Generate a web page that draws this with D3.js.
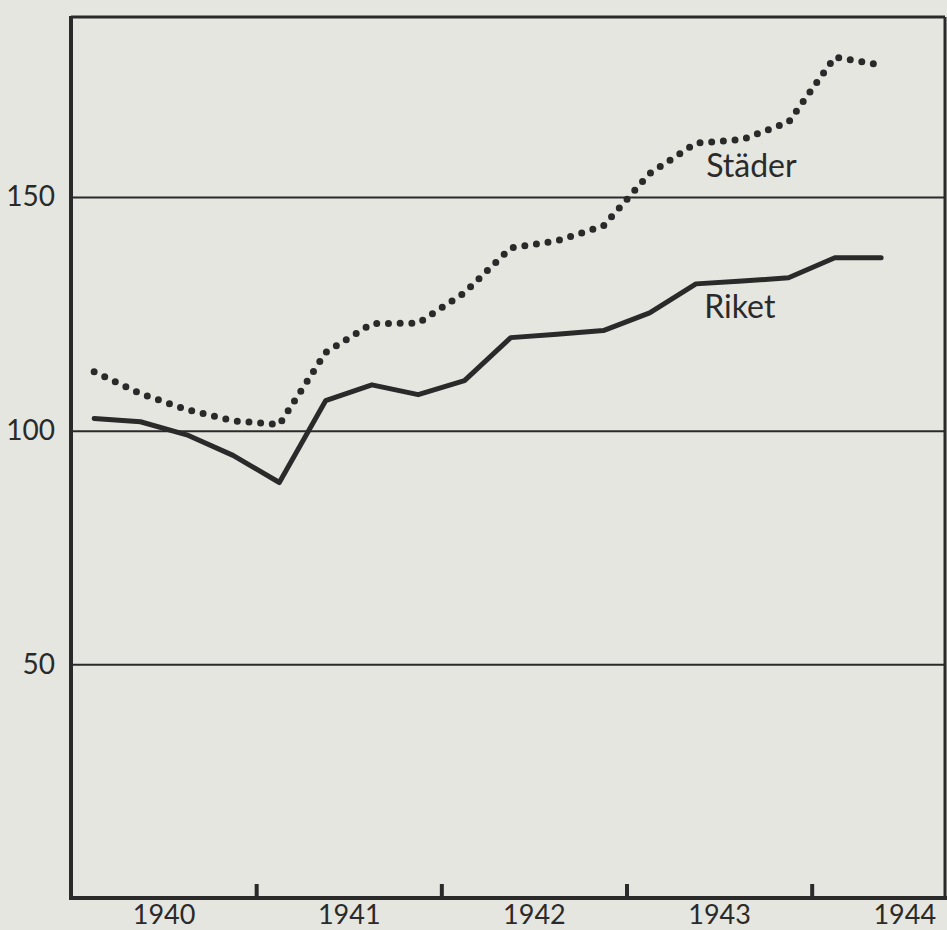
<!DOCTYPE html>
<html>
<head>
<meta charset="utf-8">
<script src="https://cdn.jsdelivr.net/npm/d3@7"></script>
<style>
  body { margin: 0; background: #e5e6e0; }
  svg { display: block; }
  text { font-family: Lato, "Noto Sans", sans-serif; fill: #2b2a2a; }
</style>
</head>
<body>
<div id="chart"></div>
<script>
// quarterly values, Q1 1940 .. Q2 1944
let quarters = ['1940:1','1940:2','1940:3','1940:4','1941:1','1941:2','1941:3','1941:4',
                '1942:1','1942:2','1942:3','1942:4','1943:1','1943:2','1943:3','1943:4',
                '1944:1','1944:2'];
let riket  = [102.6, 101.9, 99.1, 94.7, 88.9, 106.4, 109.8, 107.7, 110.7, 119.9,
              120.6, 121.4, 125.2, 131.4, 132.0, 132.7, 137.0, 137.0];
let stader = [112.6, 107.9, 104.5, 102.1, 101.3, 116.7, 122.9, 123.0, 129.5, 139.1,
              140.6, 143.8, 155.0, 161.5, 162.3, 166.0, 179.9, 178.2];
let yTicks = [50, 100, 150];
let yearBreaks = [1941, 1942, 1943, 1944];
let yearLabels = [1940, 1941, 1942, 1943, 1944];
let seriesLabels = [
    {name: 'Städer', x: 1943.43, y: 154.3},
    {name: 'Riket', x: 1943.42, y: 124.1}
];

let elWidth = 947, elHeight = 930;
let margin = {top: 17, right: 2, bottom: 32, left: 71};
let width = elWidth - margin.left - margin.right;
let height = elHeight - margin.top - margin.bottom;

let svg = d3.select('#chart').append('svg')
    .attr('width', elWidth)
    .attr('height', elHeight);
let g = svg.append('g').attr('transform', 'translate(' + margin.left + ',' + margin.top + ')');

let x = d3.scaleLinear().domain([1940, 1944.72]).range([0, width]);
let y = d3.scaleLinear().domain([0, 188.5]).range([height, 0]);

function qpos(q) {
    let p = q.split(':');
    return +p[0] + (+p[1] - 0.5) / 4;
}

// gridlines + y labels
let yAxis = g.append('g')
    .call(d3.axisLeft(y).tickValues(yTicks).tickSize(-width).tickPadding(16));
yAxis.select('.domain').remove();
yAxis.selectAll('.tick line').attr('stroke', '#2b2a2a').attr('stroke-width', 2);
yAxis.selectAll('.tick text').attr('font-size', 28).attr('fill', '#2b2a2a');

// year boundary ticks
let xAxis = g.append('g')
    .attr('transform', 'translate(0,' + height + ')')
    .call(d3.axisBottom(x).tickValues(yearBreaks).tickSize(-14).tickFormat(''));
xAxis.select('.domain').remove();
xAxis.selectAll('.tick line').attr('stroke', '#2b2a2a').attr('stroke-width', 4);

// year labels centred in each year
let xLab = g.append('g')
    .attr('transform', 'translate(0,' + height + ')')
    .call(d3.axisBottom(x).tickValues(yearLabels.map(function(d) { return d + 0.5; }))
        .tickSize(0).tickPadding(7).tickFormat(function(d) { return Math.floor(d); }));
xLab.select('.domain').remove();
xLab.selectAll('.tick text').attr('font-size', 27).attr('fill', '#2b2a2a');

// frame
let frame = g.append('g').attr('stroke', '#2b2a2a').attr('fill', 'none');
frame.append('line').attr('x1', 0).attr('x2', width).attr('y1', 0).attr('y2', 0).attr('stroke-width', 3);
frame.append('line').attr('x1', 0).attr('x2', 0).attr('y1', -1).attr('y2', height + 2).attr('stroke-width', 4);
frame.append('line').attr('x1', width).attr('x2', width).attr('y1', 0).attr('y2', height).attr('stroke-width', 3);
frame.append('line').attr('x1', -2).attr('x2', width + 2).attr('y1', height).attr('y2', height).attr('stroke-width', 4);

let line = d3.line()
    .x(function(d) { return x(qpos(d.q)); })
    .y(function(d) { return y(d.v); });

g.append('path')
    .datum(quarters.map(function(q, i) { return {q: q, v: stader[i]}; }))
    .attr('fill', 'none')
    .attr('stroke', '#2b2a2a')
    .attr('stroke-width', 7)
    .attr('stroke-linecap', 'round')
    .attr('stroke-dasharray', '0 11.7')
    .attr('d', line);

g.append('path')
    .datum(quarters.map(function(q, i) { return {q: q, v: riket[i]}; }))
    .attr('fill', 'none')
    .attr('stroke', '#2b2a2a')
    .attr('stroke-width', 5)
    .attr('stroke-linejoin', 'round')
    .attr('stroke-linecap', 'round')
    .attr('d', line);

g.selectAll('.series-label')
    .data(seriesLabels)
    .enter().append('text')
    .attr('class', 'series-label')
    .attr('x', function(d) { return x(d.x); })
    .attr('y', function(d) { return y(d.y); })
    .attr('font-size', 32)
    .text(function(d) { return d.name; });
</script>
</body>
</html>
